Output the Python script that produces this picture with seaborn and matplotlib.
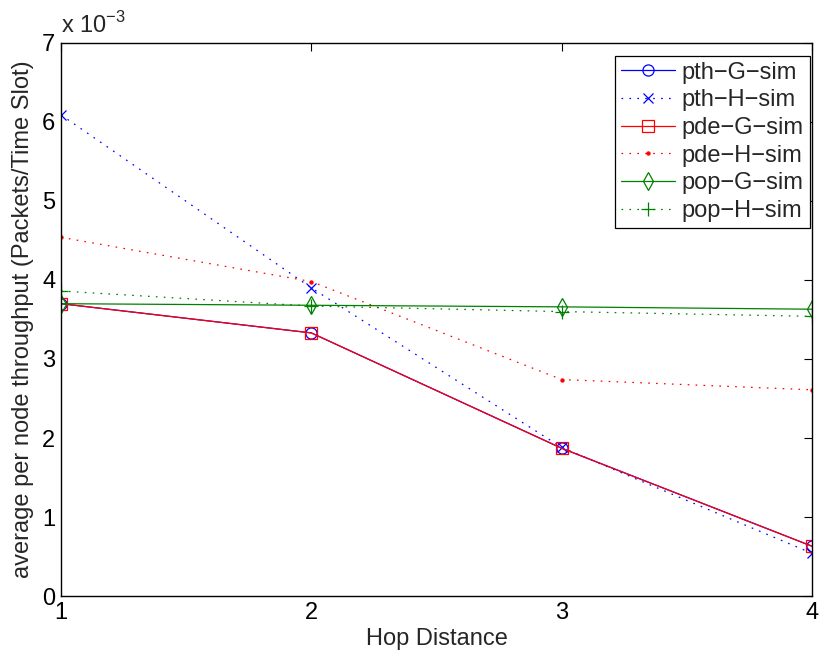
import matplotlib
matplotlib.use("Agg")
import matplotlib.pyplot as plt
import seaborn as sns
import pandas as pd

# ---- data (throughput values in units of 1e-3 packets/time slot) ----
hops = [1, 2, 3, 4]
pth_G = [3.70, 3.33, 1.87, 0.63]
pth_H = [6.09, 3.90, 1.88, 0.54]
pde_G = [3.70, 3.33, 1.87, 0.63]
pde_H = [4.54, 3.98, 2.74, 2.61]
pop_G = [3.70, 3.68, 3.66, 3.63]
pop_H = [3.86, 3.67, 3.60, 3.54]
series_names = ["pth\u2212G\u2212sim", "pth\u2212H\u2212sim", "pde\u2212G\u2212sim",
                "pde\u2212H\u2212sim", "pop\u2212G\u2212sim", "pop\u2212H\u2212sim"]
series_vals = [pth_G, pth_H, pde_G, pde_H, pop_G, pop_H]
x_ticks = [1, 2, 3, 4]
y_ticks = [0, 1, 2, 3, 4, 5, 6, 7]

sns.set_theme(style="white")
plt.rcParams["font.family"] = ["Liberation Sans", "DejaVu Sans"]
plt.rcParams["lines.scale_dashes"] = False
plt.rcParams["mathtext.fontset"] = "custom"
plt.rcParams["mathtext.rm"] = "Liberation Sans"

blue = (0, 0, 1)
red = (1, 0, 0)
green = (0, 0.5, 0)
dot = (0, (1.2, 4.5))
styles = [
    dict(color=blue, linestyle="-", marker="o", ms=8, mfc="none"),
    dict(color=blue, linestyle=dot, marker="x", ms=7, mfc=blue),
    dict(color=red, linestyle="-", marker="s", ms=8, mfc="none"),
    dict(color=red, linestyle=dot, marker=".", ms=4.5, mfc=red),
    dict(color=green, linestyle="-", marker="d", ms=9, mfc="none"),
    dict(color=green, linestyle=dot, marker="+", ms=10, mfc=green),
]

fig = plt.figure(figsize=(8.2, 6.58), dpi=100)
ax = fig.add_axes([0.0744, 0.0942, 0.9159, 0.8405])

for name, vals, st in zip(series_names, series_vals, styles):
    df = pd.DataFrame({"hop": hops, "thr": vals})
    sns.lineplot(data=df, x="hop", y="thr", ax=ax, color=st["color"],
                 linestyle=st["linestyle"], marker=st["marker"],
                 markersize=st["ms"], markerfacecolor=st["mfc"],
                 markeredgecolor=st["color"], markeredgewidth=0.9,
                 linewidth=0.9, label=name)

ax.set_xlim(1, 4)
ax.set_ylim(0, 7)
ax.set_xticks(x_ticks)
ax.set_yticks(y_ticks)
ax.set_xticklabels([str(t) for t in x_ticks])
ax.set_yticklabels([str(t) for t in y_ticks])
ax.tick_params(direction="in", length=6, width=0.8, top=True, right=True,
               labelsize=17, colors="black", pad=4)
for s in ax.spines.values():
    s.set_color("black")
    s.set_linewidth(1.0)
ax.set_xlabel("Hop Distance", fontsize=17, labelpad=3)
ax.set_ylabel("average per node throughput (Packets/Time Slot)", fontsize=17, labelpad=6)
ax.text(0.0, 1.01, r"x 10$^{-3}$", transform=ax.transAxes, fontsize=17,
        ha="left", va="bottom")

leg = ax.legend(loc="upper right", bbox_to_anchor=(0.997, 0.977), fontsize=17,
                frameon=True, fancybox=False, edgecolor="black", framealpha=1,
                handlelength=2.3, handletextpad=0.3, labelspacing=0.24,
                borderpad=0.25, borderaxespad=0.0)
leg.get_frame().set_linewidth(0.9)

fig.savefig("out.png", dpi=100)
